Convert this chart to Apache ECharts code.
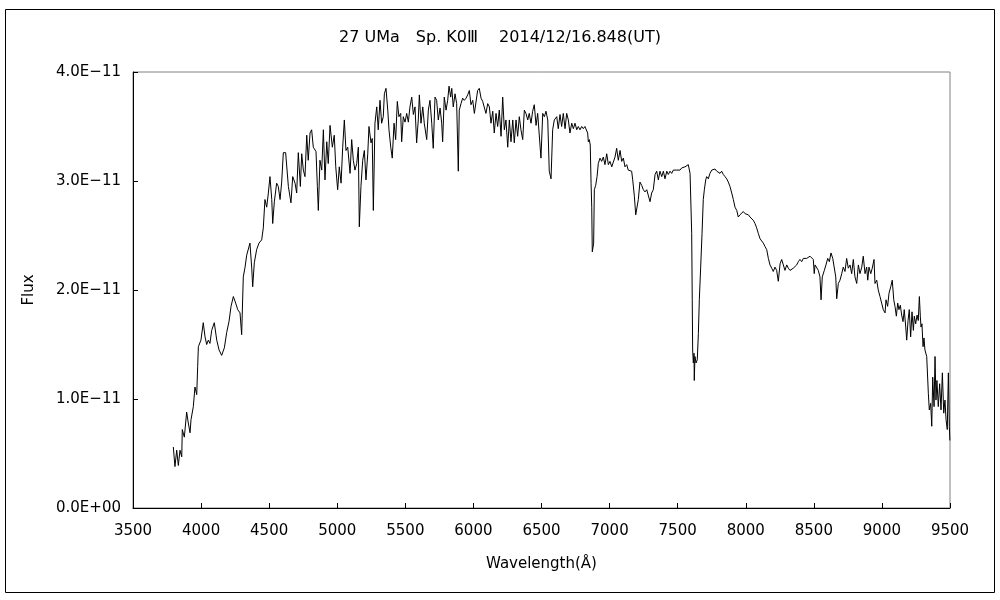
<!DOCTYPE html>
<html>
<head>
<meta charset="utf-8">
<script src="https://cdn.jsdelivr.net/npm/echarts@6/dist/echarts.min.js"></script>
<style>
  html, body { margin: 0; padding: 0; background: #fff; }
  #chart { width: 1000px; height: 600px; }
</style>
</head>
<body>
<div id="chart"></div>
<script>
// wavelength (Å)
const wavelength = [
  3796, 3808, 3821, 3833, 3845, 3858, 3862, 3877, 3894, 3906, 3919, 3926, 3943, 3955, 3968, 3975,
  3980, 3999, 4016, 4029, 4041, 4053, 4065, 4078, 4097, 4115, 4132, 4151, 4171, 4188, 4205, 4220,
  4237, 4254, 4269, 4286, 4298, 4310, 4323, 4335, 4347, 4359, 4372, 4379, 4391, 4408, 4425, 4445,
  4457, 4469, 4482, 4494, 4506, 4519, 4526, 4538, 4555, 4567, 4580, 4592, 4604, 4621, 4641, 4660,
  4673, 4690, 4702, 4714, 4729, 4739, 4751, 4763, 4776, 4787, 4800, 4812, 4824, 4844, 4854, 4861,
  4873, 4886, 4898, 4910, 4923, 4934, 4947, 4964, 4978, 4989, 5003, 5015, 5028, 5040, 5052, 5064,
  5077, 5094, 5106, 5118, 5130, 5143, 5155, 5162, 5174, 5187, 5199, 5211, 5224, 5233, 5248, 5257,
  5265, 5277, 5290, 5301, 5314, 5326, 5338, 5346, 5358, 5371, 5380, 5393, 5404, 5417, 5429, 5441,
  5453, 5466, 5473, 5485, 5498, 5510, 5522, 5534, 5547, 5559, 5571, 5583, 5595, 5603, 5615, 5628,
  5639, 5657, 5669, 5681, 5694, 5705, 5718, 5730, 5742, 5755, 5767, 5774, 5786, 5799, 5811, 5821,
  5833, 5841, 5852, 5865, 5877, 5889, 5896, 5909, 5921, 5933, 5946, 5958, 5970, 5982, 5995, 6007,
  6019, 6031, 6043, 6056, 6068, 6080, 6092, 6105, 6117, 6129, 6142, 6153, 6166, 6178, 6190, 6203,
  6215, 6227, 6239, 6252, 6264, 6276, 6289, 6300, 6313, 6325, 6337, 6349, 6362, 6374, 6386, 6399,
  6410, 6423, 6435, 6447, 6460, 6472, 6484, 6496, 6509, 6521, 6533, 6546, 6557, 6570, 6582, 6594,
  6612, 6623, 6636, 6648, 6660, 6673, 6685, 6697, 6709, 6722, 6734, 6746, 6759, 6770, 6783, 6795,
  6807, 6819, 6832, 6839, 6844, 6851, 6858, 6864, 6869, 6873, 6883, 6888, 6898, 6908, 6917, 6930,
  6942, 6954, 6966, 6979, 6991, 7003, 7016, 7027, 7040, 7052, 7064, 7077, 7089, 7101, 7113, 7126,
  7137, 7150, 7162, 7170, 7182, 7192, 7204, 7211, 7223, 7236, 7248, 7260, 7273, 7284, 7297, 7309,
  7321, 7334, 7346, 7358, 7370, 7383, 7395, 7407, 7420, 7431, 7444, 7456, 7468, 7480, 7493, 7505,
  7517, 7530, 7541, 7554, 7566, 7578, 7591, 7603, 7607, 7610, 7615, 7620, 7622, 7627, 7635, 7644,
  7652, 7659, 7669, 7679, 7688, 7696, 7706, 7713, 7725, 7737, 7750, 7762, 7774, 7787, 7798, 7811,
  7823, 7835, 7848, 7860, 7872, 7884, 7897, 7909, 7921, 7934, 7945, 7958, 7970, 7982, 7995, 8007,
  8019, 8031, 8044, 8055, 8068, 8080, 8092, 8105, 8117, 8129, 8141, 8154, 8166, 8178, 8191, 8202,
  8215, 8227, 8239, 8252, 8264, 8276, 8288, 8301, 8313, 8325, 8337, 8349, 8362, 8374, 8386, 8398,
  8411, 8423, 8435, 8448, 8459, 8472, 8484, 8496, 8503, 8509, 8521, 8533, 8545, 8553, 8562, 8577,
  8589, 8602, 8614, 8626, 8639, 8650, 8661, 8668, 8680, 8692, 8705, 8716, 8729, 8741, 8753, 8766,
  8778, 8790, 8802, 8815, 8827, 8839, 8852, 8863, 8876, 8888, 8896, 8905, 8918, 8929, 8942, 8949,
  8962, 8973, 8986, 8998, 9010, 9023, 9030, 9042, 9052, 9065, 9076, 9087, 9096, 9106, 9116, 9125,
  9135, 9145, 9155, 9164, 9175, 9182, 9192, 9201, 9211, 9221, 9231, 9238, 9248, 9258, 9267, 9275,
  9282, 9287, 9294, 9302, 9309, 9316, 9329, 9341, 9348, 9358, 9366, 9373, 9383, 9390, 9397, 9404,
  9414, 9424, 9434, 9444, 9454, 9463, 9471, 9480, 9488, 9495, 9499
];

// flux (×1E-11)
const flux = [
  0.56, 0.38, 0.53, 0.39, 0.53, 0.47, 0.72, 0.65, 0.88, 0.78, 0.69, 0.81, 0.93, 1.11, 1.04, 1.30,
  1.48, 1.54, 1.70, 1.57, 1.50, 1.54, 1.51, 1.63, 1.70, 1.54, 1.45, 1.40, 1.47, 1.61, 1.71, 1.85,
  1.94, 1.88, 1.82, 1.79, 1.59, 2.12, 2.21, 2.32, 2.31, 2.43, 2.20, 2.03, 2.25, 2.37, 2.43, 2.46,
  2.57, 2.83, 2.76, 2.89, 3.04, 2.83, 2.61, 2.81, 2.98, 2.95, 2.83, 2.99, 3.26, 3.26, 2.95, 2.80,
  3.04, 2.98, 2.89, 3.26, 2.95, 3.25, 3.10, 3.04, 3.42, 3.19, 3.44, 3.47, 3.31, 3.27, 2.95, 2.73,
  3.19, 3.10, 3.47, 3.01, 3.36, 3.16, 3.51, 3.31, 3.42, 3.13, 2.92, 3.13, 2.98, 3.31, 3.56, 3.28,
  3.31, 3.07, 3.38, 3.19, 3.10, 3.16, 3.31, 2.58, 2.95, 3.19, 3.28, 3.01, 3.25, 3.50, 3.35, 3.39,
  2.73, 3.53, 3.68, 3.47, 3.74, 3.53, 3.59, 3.80, 3.85, 3.65, 3.47, 3.31, 3.21, 3.53, 3.38, 3.73,
  3.59, 3.62, 3.36, 3.59, 3.54, 3.62, 3.54, 3.68, 3.77, 3.61, 3.68, 3.35, 3.56, 3.79, 3.53, 3.68,
  3.53, 3.38, 3.65, 3.74, 3.53, 3.30, 3.77, 3.74, 3.56, 3.67, 3.53, 3.36, 3.77, 3.65, 3.74, 3.87,
  3.77, 3.85, 3.68, 3.80, 3.71, 3.09, 3.65, 3.71, 3.76, 3.74, 3.76, 3.79, 3.83, 3.70, 3.74, 3.62,
  3.61, 3.83, 3.85, 3.76, 3.73, 3.74, 3.62, 3.71, 3.68, 3.53, 3.64, 3.44, 3.62, 3.50, 3.65, 3.41,
  3.77, 3.47, 3.56, 3.31, 3.56, 3.36, 3.56, 3.35, 3.56, 3.41, 3.59, 3.47, 3.38, 3.65, 3.62, 3.56,
  3.62, 3.53, 3.64, 3.70, 3.51, 3.62, 3.61, 3.21, 3.62, 3.59, 3.64, 3.56, 3.09, 3.02, 3.47, 3.56,
  3.59, 3.48, 3.61, 3.50, 3.62, 3.48, 3.62, 3.56, 3.44, 3.53, 3.48, 3.53, 3.47, 3.50, 3.47, 3.50,
  3.48, 3.50, 3.51, 3.44, 3.36, 3.38, 3.33, 2.98, 2.76, 2.35, 2.43, 2.92, 2.96, 3.04, 3.16, 3.21,
  3.18, 3.22, 3.15, 3.25, 3.15, 3.18, 3.13, 3.12, 3.22, 3.30, 3.19, 3.28, 3.18, 3.21, 3.13, 3.15,
  3.10, 3.10, 3.09, 3.01, 2.86, 2.69, 2.69, 2.83, 2.99, 2.96, 2.92, 2.90, 2.92, 2.92, 2.81, 2.89,
  2.92, 3.06, 3.09, 3.01, 3.09, 3.04, 3.09, 3.02, 3.09, 3.06, 3.09, 3.07, 3.10, 3.09, 3.10, 3.09,
  3.10, 3.12, 3.13, 3.13, 3.13, 3.15, 3.07, 2.52, 1.91, 1.45, 1.33, 1.42, 1.17, 1.39, 1.33, 1.36,
  1.60, 1.91, 2.21, 2.52, 2.83, 2.92, 3.01, 3.04, 3.02, 3.07, 3.10, 3.09, 3.11, 3.09, 3.10, 3.07,
  3.09, 3.06, 3.04, 3.02, 2.99, 2.95, 2.89, 2.83, 2.76, 2.73, 2.67, 2.69, 2.70, 2.72, 2.70, 2.69,
  2.69, 2.67, 2.66, 2.64, 2.61, 2.57, 2.52, 2.47, 2.46, 2.43, 2.40, 2.37, 2.29, 2.23, 2.20, 2.17,
  2.21, 2.18, 2.08, 2.24, 2.28, 2.23, 2.18, 2.23, 2.20, 2.18, 2.18, 2.20, 2.21, 2.23, 2.26, 2.28,
  2.26, 2.29, 2.28, 2.29, 2.28, 2.31, 2.31, 2.28, 2.15, 2.23, 2.24, 2.18, 2.12, 1.91, 2.12, 2.18,
  2.23, 2.29, 2.26, 2.34, 2.29, 2.28, 2.12, 1.92, 2.06, 2.09, 2.15, 2.21, 2.17, 2.29, 2.20, 2.23,
  2.15, 2.28, 2.12, 2.06, 2.23, 2.15, 2.21, 2.31, 2.15, 2.21, 2.09, 2.21, 2.15, 2.20, 2.28, 2.06,
  2.09, 2.00, 1.94, 1.88, 1.82, 1.79, 1.91, 1.85, 1.97, 2.03, 2.09, 1.91, 1.85, 1.76, 1.88, 1.82,
  1.86, 1.77, 1.71, 1.82, 1.66, 1.54, 1.72, 1.82, 1.57, 1.80, 1.63, 1.76, 1.69, 1.77, 1.72, 1.94,
  1.76, 1.66, 1.69, 1.48, 1.56, 1.45, 1.39, 1.05, 0.90, 0.96, 0.75, 1.20, 0.93, 1.39, 0.99, 1.17,
  0.93, 1.14, 0.90, 1.24, 0.87, 0.99, 0.81, 0.72, 1.24, 0.75, 0.62
];

const xTicks = [3500, 9500, 500];
const yTicks = [0, 4, 1];
const titleText = '27 UMa\u3000Sp. K0\u2162\u3000 2014/12/16.848(UT)';

const points = wavelength.map((w, i) => [w, flux[i]]);

const chart = echarts.init(document.getElementById('chart'));
const font = '"DejaVu Sans", "Noto Sans CJK JP", sans-serif';

chart.setOption({
  animation: false,
  backgroundColor: '#fff',
  title: {
    text: titleText,
    left: 'center',
    top: 25,
    textStyle: { fontSize: 16, fontWeight: 'normal', color: '#000', fontFamily: font }
  },
  graphic: [
    {
      type: 'rect',
      shape: { x: 5.5, y: 9.5, width: 989, height: 583 },
      style: { fill: 'none', stroke: '#000', lineWidth: 1 },
      silent: true
    }
  ],
  grid: {
    left: 133,
    right: 50,
    top: 72,
    bottom: 92,
    show: true,
    borderColor: '#808080',
    borderWidth: 1,
    backgroundColor: 'transparent'
  },
  xAxis: {
    type: 'value',
    min: xTicks[0],
    max: xTicks[1],
    interval: xTicks[2],
    name: 'Wavelength(\u212B)',
    nameLocation: 'middle',
    nameGap: 49,
    nameTextStyle: { fontSize: 15, color: '#000', fontFamily: font },
    axisLine: { show: true, lineStyle: { color: '#000', width: 1 } },
    axisTick: { show: true, inside: true, length: 5, lineStyle: { color: '#000' } },
    axisLabel: {
      fontSize: 15,
      color: '#000',
      margin: 16,
      fontFamily: font,
      formatter: v => String(v)
    },
    splitLine: { show: false }
  },
  yAxis: {
    type: 'value',
    min: yTicks[0],
    max: yTicks[1],
    interval: yTicks[2],
    name: 'Flux',
    nameLocation: 'middle',
    nameRotate: 90,
    nameGap: 96,
    nameTextStyle: { fontSize: 15, color: '#000', fontFamily: font },
    axisLine: { show: true, lineStyle: { color: '#000', width: 1 } },
    axisTick: { show: true, inside: true, length: 5, lineStyle: { color: '#000' } },
    axisLabel: {
      fontSize: 15,
      color: '#000',
      margin: 12,
      fontFamily: font,
      formatter: v => (v === 0 ? '0.0E+00' : v.toFixed(1) + 'E\u221211')
    },
    splitLine: { show: false }
  },
  series: [
    {
      type: 'line',
      data: points,
      showSymbol: false,
      symbol: 'none',
      lineStyle: { color: '#000', width: 1 },
      z: 3
    }
  ]
});
</script>
</body>
</html>
